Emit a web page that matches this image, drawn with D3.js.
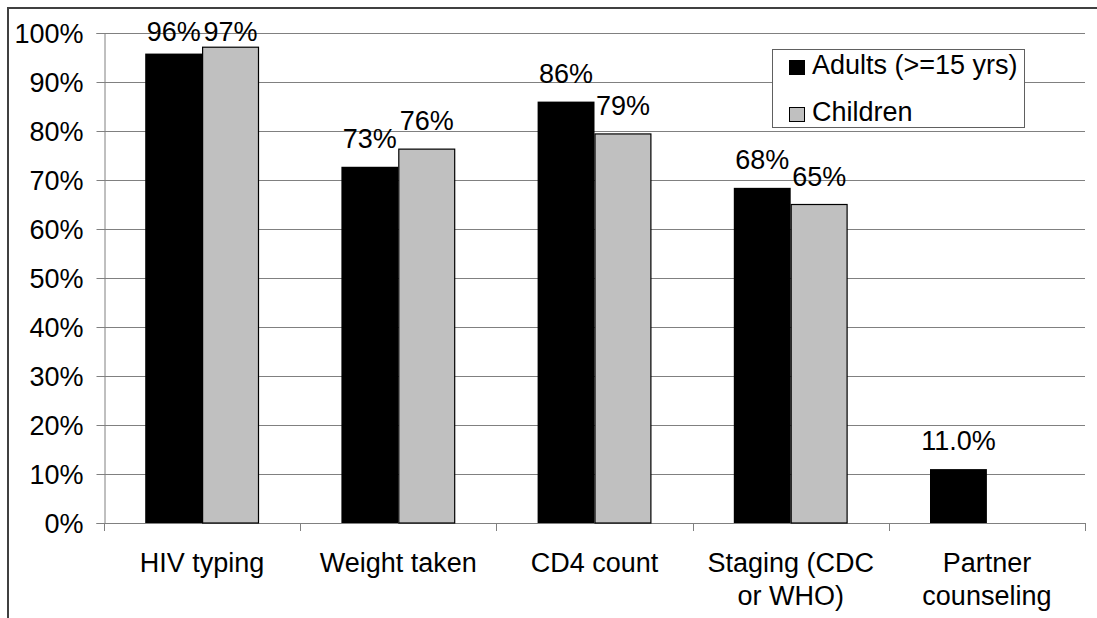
<!DOCTYPE html>
<html>
<head>
<meta charset="utf-8">
<script src="https://cdn.jsdelivr.net/npm/d3@7"></script>
<style>
  html, body { margin: 0; padding: 0; background: #fff; }
  svg text { font-family: "Liberation Sans", Arial, sans-serif; fill: #000; }
</style>
</head>
<body>
<svg id="chart" width="1097" height="618"></svg>
<script>
// Indicator categories (multi-line labels split on "\n")
const categories = ["HIV typing", "Weight taken", "CD4 count", "Staging (CDC\nor WHO)", "Partner\ncounseling"];
const seriesNames = ["Adults (>=15 yrs)", "Children"];
const adults   = [0.958, 0.727, 0.860, 0.684, 0.110];
const children = [0.971, 0.763, 0.794, 0.650, null];
// decimals shown in each category's value labels
const labelDecimals = [0, 0, 0, 0, 1];
const yTicks = [0, 0.1, 0.2, 0.3, 0.4, 0.5, 0.6, 0.7, 0.8, 0.9, 1.0];

const colors = ["#000000", "#c0c0c0"];
const svg = d3.select("#chart");
const FONT = 27;

const plot = { left: 104, right: 1085, top: 33, bottom: 523 };

// Outer frame (top and left edges)
svg.append("path")
  .attr("d", `M8,618 L8,8 L1097,8`)
  .attr("fill", "none")
  .attr("stroke", "#404040")
  .attr("stroke-width", 2);

const x0 = d3.scaleBand().domain(d3.range(categories.length))
  .range([plot.left, plot.right]).paddingInner(0).paddingOuter(0);
const groupPad = x0.bandwidth() * 0.21;
const x1 = d3.scaleBand().domain([0, 1])
  .range([groupPad, x0.bandwidth() - groupPad]).padding(0);
const y = d3.scaleLinear().domain([0, 1]).range([plot.bottom, plot.top]);

// Gridlines
svg.append("g")
  .selectAll("line").data(yTicks.filter(d => d > 0)).join("line")
  .attr("x1", plot.left).attr("x2", plot.right)
  .attr("y1", d => Math.round(y(d)) + 0.5).attr("y2", d => Math.round(y(d)) + 0.5)
  .attr("stroke", "#808080").attr("stroke-width", 1);

// Y axis
const yAxis = svg.append("g")
  .attr("transform", `translate(${plot.left + 0.5},0)`)
  .call(d3.axisLeft(y).tickValues(yTicks).tickFormat(d3.format(".0%"))
    .tickSize(8).tickPadding(13));
yAxis.select(".domain").attr("stroke", "#808080");
yAxis.selectAll(".tick line").attr("stroke", "#808080");
yAxis.selectAll(".tick text")
  .style("font-size", FONT + "px")
  .attr("dy", "0.35em");

// X axis line and category separators
svg.append("line")
  .attr("x1", plot.left).attr("x2", plot.right)
  .attr("y1", plot.bottom + 0.5).attr("y2", plot.bottom + 0.5)
  .attr("stroke", "#808080");
svg.append("g").selectAll("line")
  .data(d3.range(categories.length + 1)).join("line")
  .attr("x1", i => Math.round(plot.left + i * x0.bandwidth()) + 0.5)
  .attr("x2", i => Math.round(plot.left + i * x0.bandwidth()) + 0.5)
  .attr("y1", plot.bottom).attr("y2", plot.bottom + 8)
  .attr("stroke", "#808080");

// Category labels
const catG = svg.append("g");
categories.forEach((c, i) => {
  const t = catG.append("text")
    .attr("x", x0(i) + x0.bandwidth() / 2)
    .attr("y", 572)
    .attr("text-anchor", "middle")
    .style("font-size", FONT + "px");
  c.split("\n").forEach((line, k) => {
    t.append("tspan").attr("x", x0(i) + x0.bandwidth() / 2)
      .attr("dy", k === 0 ? 0 : 32.5).text(line);
  });
});

// Bars
const series = [adults, children];
const barsG = svg.append("g");
series.forEach((vals, s) => {
  vals.forEach((v, i) => {
    if (v == null) return;
    barsG.append("rect")
      .attr("x", x0(i) + x1(s) + (s === 1 ? 0.5 : 0))
      .attr("y", y(v))
      .attr("width", x1.bandwidth() - (s === 1 ? 1 : 0))
      .attr("height", y(0) - y(v))
      .attr("fill", colors[s])
      .attr("stroke", s === 1 ? "#000" : "none")
      .attr("stroke-width", 1.2);
  });
});

// Value labels
const labG = svg.append("g");
series.forEach((vals, s) => {
  vals.forEach((v, i) => {
    if (v == null) return;
    const fmt = d3.format("." + labelDecimals[i] + "%");
    labG.append("text")
      .attr("x", x0(i) + x1(s) + x1.bandwidth() / 2)
      .attr("y", Math.max(y(v) - 19, 41))
      .attr("text-anchor", "middle")
      .style("font-size", FONT + "px")
      .text(fmt(v));
  });
});

// Legend
const lg = svg.append("g");
lg.append("rect")
  .attr("x", 772.5).attr("y", 49.5).attr("width", 252).attr("height", 78)
  .attr("fill", "#fff").attr("stroke", "#606060").attr("stroke-width", 1);
seriesNames.forEach((name, s) => {
  const cy = 67.5 + s * 47;
  lg.append("rect")
    .attr("x", 789.5).attr("y", cy - 7).attr("width", 15).attr("height", 14)
    .attr("fill", colors[s]).attr("stroke", "#000").attr("stroke-width", 1);
  lg.append("text")
    .attr("x", 812).attr("y", cy + 6.5)
    .style("font-size", FONT + "px")
    .text(name);
});
</script>
</body>
</html>
